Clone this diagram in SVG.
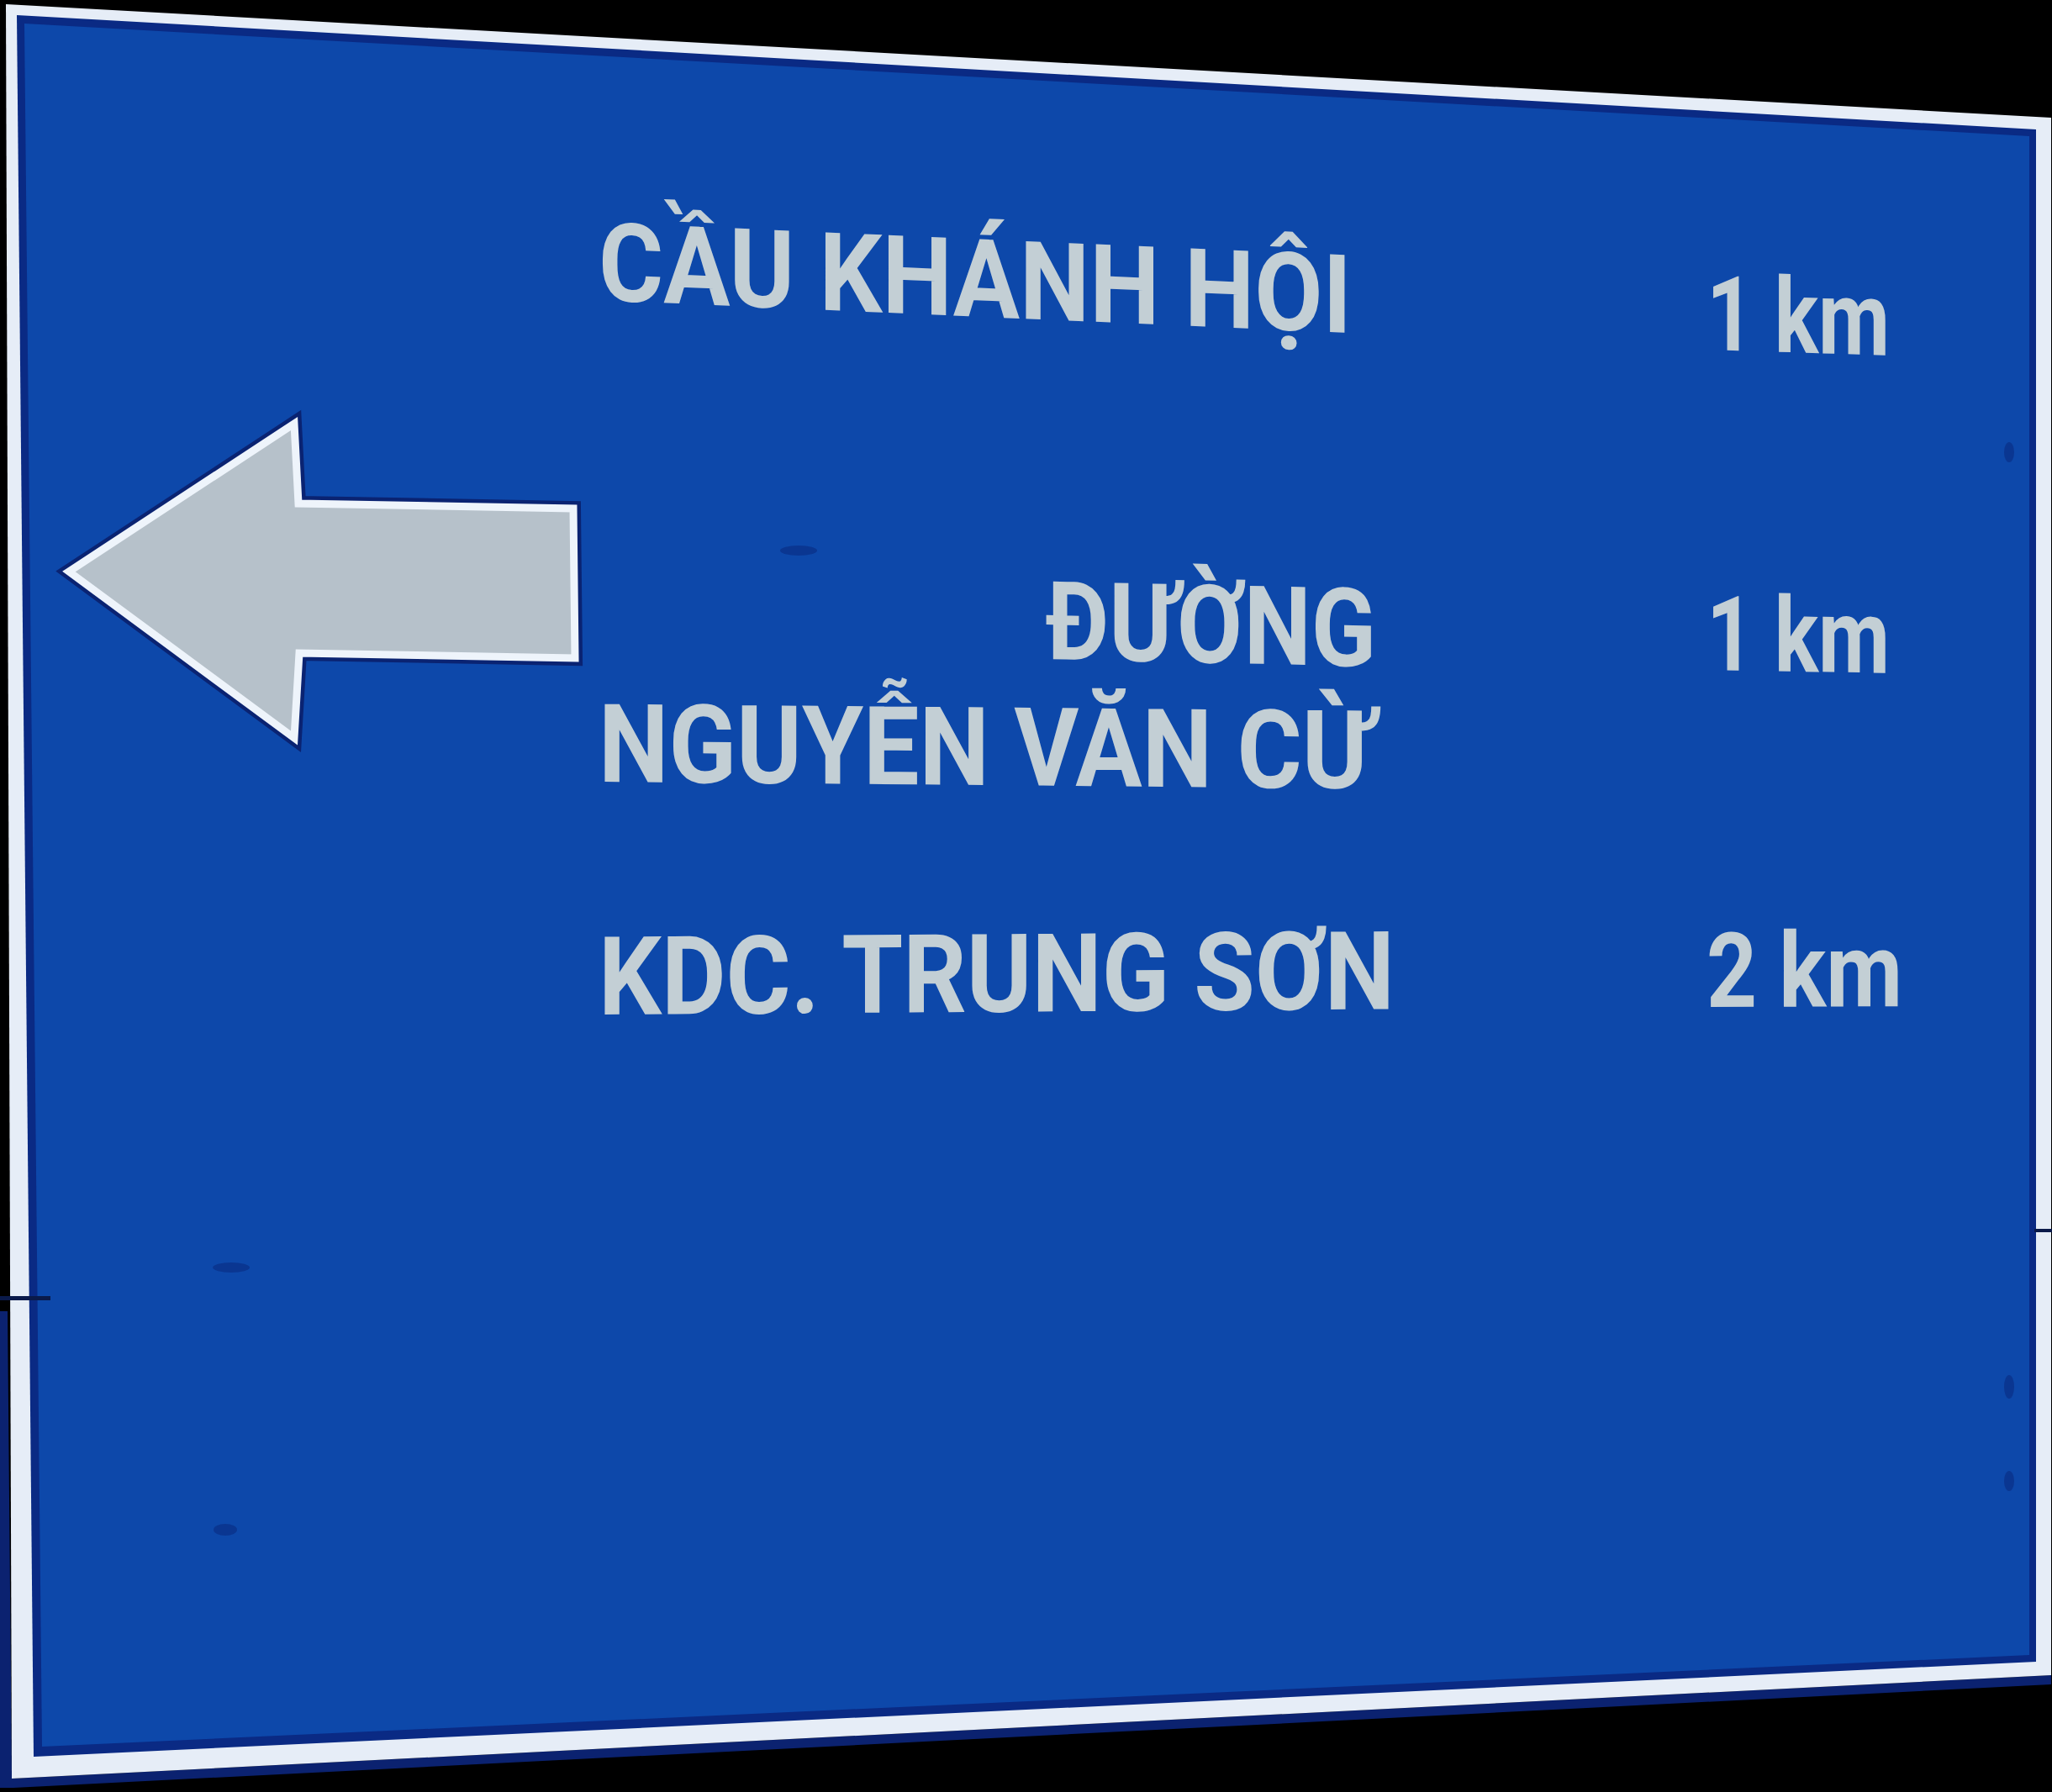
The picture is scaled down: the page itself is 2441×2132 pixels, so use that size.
<svg xmlns="http://www.w3.org/2000/svg" width="2441" height="2132" viewBox="0 0 2441 2132">
  <style>
    .lbl { font-family: Roboto, "DejaVu Sans", sans-serif; font-weight: 700; fill: #c3cfd5; }
    .big { font-size: 130px; }
    .km { font-size: 124px; }
    .spot { fill: #0a2f86; opacity: 0.7; }
  </style>
  <rect x="0" y="0" width="2441" height="2132" fill="#000"/>
  <g id="sign-board">
    <polygon points="0,1560 9,1560 14,2116 2440,1993 2440,2004 16,2127 0,2127" fill="#0b2270"/>
    <polygon points="7,5 2440,140 2440,1993 14,2116" fill="#e6edf7"/>
    <polygon points="20,18 2422,154 2422,1977 40,2090" fill="#0a2a84"/>
    <polygon points="29,28 2414,162 2414,1969 50,2078" fill="#0d48aa"/>
    <rect x="0" y="1542" width="60" height="5" fill="#0a1a4a"/>
    <rect x="2420" y="1462" width="21" height="4" fill="#0a1a4a"/>
    <ellipse class="spot" cx="950" cy="655" rx="22" ry="6"/>
    <ellipse class="spot" cx="275" cy="1508" rx="22" ry="6"/>
    <ellipse class="spot" cx="268" cy="1820" rx="14" ry="7"/>
    <ellipse class="spot" cx="2390" cy="538" rx="6" ry="12"/>
    <ellipse class="spot" cx="2390" cy="1650" rx="6" ry="14"/>
    <ellipse class="spot" cx="2390" cy="1762" rx="6" ry="12"/>
  </g>
  <g id="arrow">
    <polygon points="82,680 350,504 355,599 682,605 684,783 356,777 350,878" fill="#0a2372" stroke="#0a2372" stroke-width="18" stroke-linejoin="miter"/>
    <polygon points="82,680 350,504 355,599 682,605 684,783 356,777 350,878" fill="#b6c1ca" stroke="#eef4fb" stroke-width="9" stroke-linejoin="miter"/>
  </g>
  <g id="row-cau-khanh-hoi">
    <text class="lbl big" transform="translate(712,357) skewY(2.5)" textLength="896" lengthAdjust="spacingAndGlyphs">CẦU KHÁNH HỘI</text>
    <text class="lbl km" transform="translate(2030,416) skewY(1.8)" textLength="218" lengthAdjust="spacingAndGlyphs">1 km</text>
  </g>
  <g id="row-nguyen-van-cu">
    <text class="lbl big" transform="translate(1244,784) skewY(1.3)" textLength="393" lengthAdjust="spacingAndGlyphs">ĐƯỜNG</text>
    <text class="lbl big" transform="translate(712,930) skewY(0.5)" textLength="921" lengthAdjust="spacingAndGlyphs">NGUYỄN VĂN CỪ</text>
    <text class="lbl km" transform="translate(2030,797) skewY(1.0)" textLength="218" lengthAdjust="spacingAndGlyphs">1 km</text>
  </g>
  <g id="row-trung-son">
    <text class="lbl big" transform="translate(712,1207) skewY(-0.4)" textLength="947" lengthAdjust="spacingAndGlyphs">KDC. TRUNG SƠN</text>
    <text class="lbl km" transform="translate(2030,1198) skewY(-0.2)" textLength="233" lengthAdjust="spacingAndGlyphs">2 km</text>
  </g>
</svg>
